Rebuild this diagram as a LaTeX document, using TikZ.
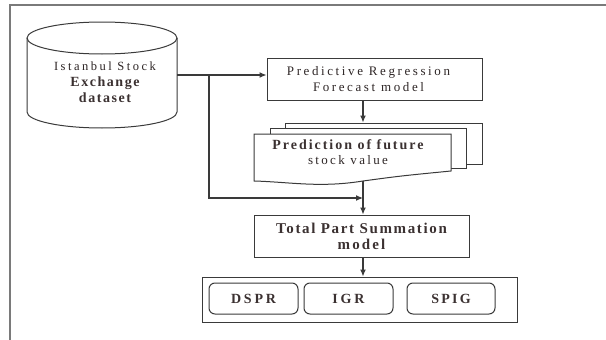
\documentclass[tikz,border=0pt]{standalone}
\usepackage{fontspec}
\setmainfont{Liberation Serif}
\usetikzlibrary{arrows.meta,calc}
\definecolor{ink}{HTML}{2E2626}
\definecolor{heavyink}{HTML}{3B3131}
\definecolor{edge}{HTML}{3A3A3A}
\definecolor{framegray}{HTML}{7A7A7A}
% light spaced text: size, letter spacing, text
\newcommand{\ls}[3]{{\fontsize{#1pt}{16pt}\selectfont\addfontfeature{LetterSpace=#2}#3}}
% heavy spaced text: size, letter spacing, text
\newcommand{\hs}[3]{{\color{heavyink}\bfseries\fontsize{#1pt}{16pt}\selectfont\addfontfeature{LetterSpace=#2}#3}}
\begin{document}
\begin{tikzpicture}[x=1pt,y=-1pt,
  box/.style={draw=edge, line width=1pt, fill=white, inner sep=0pt, align=center, text=ink,
    font=\fontsize{13pt}{16pt}\selectfont},
  pill/.style={box, rounded corners=6pt, minimum width=89pt, minimum height=31pt},
  label/.style={inner sep=0pt, align=center, text=ink, font=\fontsize{13pt}{16pt}\selectfont},
  link/.style={draw=edge, line width=1.1pt},
  arr/.style={link, -{Latex[length=7pt,width=6pt]}}]
\useasboundingbox (0,0) rectangle (606,340);

% outer frame
\draw[framegray, line width=2pt] (10,340) -- (10,5) -- (606,5);

% main vertical axis
\coordinate (ax) at (363,0);

% database cylinder
\draw[edge, line width=1pt, fill=white] (27,38) -- (27,112)
  arc[start angle=180, end angle=360, x radius=75pt, y radius=16pt] -- (177,38);
\draw[edge, line width=1pt] (102,38) ellipse[x radius=75pt, y radius=16pt];
\node[inner sep=0pt, minimum width=150pt, minimum height=74pt] (db) at (102,75) {};
\node[label] (dbtext) at (105,82)
  {\ls{12.5}{20}{Istanbul Stock}\\ \hs{14}{11}{Exchange}\\ \hs{14}{11}{dataset}};

% regression model (text sits slightly left of the box centre)
\node[box, minimum width=215pt, minimum height=42pt] (b1) at (374.5,79)
  {\ls{13}{20}{Predictive Regression}\hspace*{12pt}\\ \ls{13}{20}{Forecast model}\hspace*{12pt}};

% stacked documents
\node[box, minimum width=197pt, minimum height=41pt] (docC) at (383.5,143.5) {};
\node[box, minimum width=196pt, minimum height=40pt] (docB) at (368,148) {};
\coordinate (docbot) at (363,181);
\draw[edge, line width=1pt, fill=white] (254,134) -- (451,134) -- (451,171)
  .. controls (400,176) .. (docbot) .. controls (320,188) and (290,182) .. (254,181) -- cycle;
\node[label, font=\fontsize{13pt}{14.5pt}\selectfont] (doctext) at (348,152)
  {\hs{14}{14}{Prediction of future}\\ \ls{13}{18}{stock value}};

% summation model
\node[box, minimum width=215pt, minimum height=42pt] (b2) at (361.5,236)
  {\hs{15}{11}{Total Part Summation}\\ \hs{15}{14}{model}};

% output group
\node[draw=edge, line width=1pt, minimum width=315pt, minimum height=45pt, inner sep=0pt] (tray) at (359.5,299.5) {};
\node[pill] (dspr) at (253.5,298.5) {\hs{14}{20}{DSPR}};
\node[pill] (igr) at (348.5,298.5) {\hs{14}{20}{IGR}};
\node[pill, minimum width=88pt] (spig) at (451,298.5) {\hs{14}{16}{SPIG}};

% connectors
\coordinate (split) at (209,75);
\coordinate (join) at (209,198);
\draw[arr] (db.east) -- (db.east -| b1.west);
\draw[arr] (split) -- (join) -- (join -| ax);
\draw[arr] (b1.south -| ax) -- (docC.north -| ax);
\draw[arr] (docbot) -- (b2.north -| ax);
\draw[arr] (b2.south -| ax) -- (tray.north -| ax);
\end{tikzpicture}
\end{document}
